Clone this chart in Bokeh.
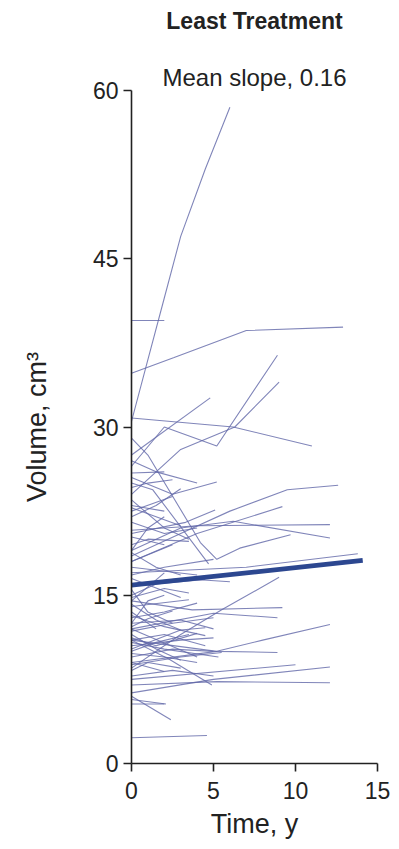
from bokeh.plotting import figure
from bokeh.models import Title, FixedTicker, Range1d
from bokeh.embed import file_html
from bokeh.resources import INLINE

FONT = "Liberation Sans"

# Individual trajectories: follow-up time (y) and volume (cm3)
subject_times = [
    [0, 1, 2, 3, 4.5, 6],
    [0, 2],
    [0, 2.6, 7, 12.9],
    [0, 6.2, 11],
    [0, 2, 5.2, 8.9],
    [0, 3, 6.3, 9],
    [0, 4.8],
    [0, 2.5, 5.2],
    [0, 2],
    [0, 1, 2.5],
    [0, 3, 6, 9.5, 12.6],
    [0, 4, 12.1],
    [0, 3, 6.2, 12.1],
    [0, 4, 9.2],
    [0, 3.3, 5.1],
    [0, 1, 4.2, 5.2, 6.6, 9.7],
    [0, 1.3, 4.7],
    [0, 7, 13.8],
    [0, 3, 5.5, 9],
    [0, 3.7, 9.2],
    [0, 5, 8.9],
    [0, 5.2, 8, 12.1],
    [0, 5.2, 8.9],
    [0, 10],
    [0, 5, 12.1],
    [0, 5.2, 12.1],
    [0, 2.1],
    [0, 2.4],
    [0, 4.6],
    [0, 2],
    [0, 2.3, 4.9],
    [0, 2],
    [0, 1.5, 3],
    [0, 2, 4],
    [0, 3],
    [0, 1, 3.5],
    [0, 2.5],
    [0, 4],
    [0, 2, 5],
    [0, 3, 6],
    [0, 1.5, 4.5],
    [0, 2],
    [0, 1, 2.5],
    [0, 1, 2],
    [0, 3.5],
    [0, 2, 4],
    [0, 3, 5],
    [0, 2.5, 5],
    [0, 1.5],
    [0, 2, 4.5],
    [0, 3, 5],
    [0, 1.5, 3.5],
    [0, 2, 4],
    [0, 2.5, 5],
    [0, 2],
    [0, 3, 5.5],
    [0, 1, 3],
    [0, 4],
    [0, 2, 5.3],
    [0, 1.5, 3],
    [0, 2],
    [0, 1.5, 4],
    [0, 2.5],
    [0, 1, 2],
    [0, 2, 3.5],
    [0, 3],
    [0, 1.5, 3],
    [0, 2.5, 5],
    [0, 1.5, 3],
    [0, 2, 4.5],
    [0, 1, 2.5],
    [0, 3, 4.5],
    [0, 2, 3.5],
    [0, 1.5, 4],
]
subject_volumes = [
    [30.5, 36, 41.5, 47, 53, 58.5],
    [39.5, 39.5],
    [34.8, 36.2, 38.6, 38.9],
    [30.8, 30.0, 28.3],
    [26.5, 30, 28.3, 36.4],
    [24, 28, 30, 34],
    [27.5, 32.6],
    [25.5, 24, 25.1],
    [25.9, 26],
    [24.6, 25, 25.3],
    [18.5, 20.5, 22.5, 24.4, 24.8],
    [20.8, 21.2, 21.3],
    [19, 21, 21.6, 20.1],
    [18, 20.5, 22.9],
    [20.5, 21.5, 22.6],
    [29, 27.5, 19.7, 18.2, 19.2, 20.4],
    [25, 24.4, 17.8],
    [17, 17.5, 18.7],
    [8.5, 11.5, 13.7, 16.6],
    [14.5, 13.7, 13.9],
    [12, 13.4, 13.0],
    [9, 10, 11, 12.4],
    [11, 10, 9.9],
    [7.5, 8.8],
    [6.3, 7.5, 8.6],
    [7, 7.3, 7.2],
    [5.7, 5.3],
    [6, 3.9],
    [2.3, 2.5],
    [5.3, 5.3],
    [11, 9.3, 7.0],
    [23, 22.5],
    [22, 23, 24.5],
    [21.5, 20.5, 21],
    [22.8, 21.2],
    [19.5, 20, 19.8],
    [18, 19.5],
    [17.5, 16.8],
    [16.8, 17.5, 18.2],
    [16, 16.5, 16.2],
    [15, 16, 16.4],
    [14.5, 17],
    [15.5, 13.5, 12.5],
    [12.5, 14.5, 15],
    [14, 14.6],
    [13, 13.5, 14.3],
    [12.5, 12.8, 12],
    [11.8, 12.5, 13],
    [13.5, 12],
    [11, 11.5, 10.5],
    [10.5, 11, 11.2],
    [10, 10.8, 11.5],
    [9.8, 9.5, 9],
    [9.5, 10.2, 10],
    [9, 8.2],
    [8.8, 9.5, 9.9],
    [8.3, 9, 8.5],
    [12, 9.5],
    [10.8, 10.2, 9.5],
    [18.8, 17.5, 16.8],
    [20.2, 19.5],
    [27, 26, 25],
    [22.5, 23.8],
    [19, 21, 22],
    [23.5, 21, 20],
    [16.5, 14.8],
    [11.5, 10.2, 9.2],
    [7.8, 8.3, 7.8],
    [14.2, 12.8, 11.9],
    [13.2, 12.2, 11.4],
    [12.2, 12.9, 13.6],
    [10.2, 11.9, 12.1],
    [14.8, 15.6, 15.2],
    [11.2, 10.5, 11.6],
]

# Mean trajectory (slope 0.16 cm3 per year)
mean_times = [0, 14.1]
mean_volumes = [15.9, 18.1]

x_ticks = [0, 5, 10, 15]
y_ticks = [0, 15, 30, 45, 60]

p = figure(width=391, height=841, output_backend="svg", toolbar_location=None,
           x_range=Range1d(0, 15), y_range=Range1d(0, 60),
           min_border_left=131, min_border_right=14, min_border_top=90,
           min_border_bottom=77)

p.title.text = "Least Treatment"
p.title.align = "center"
p.title.text_font = FONT
p.title.text_font_style = "bold"
p.title.text_font_size = "23px"
p.title.text_color = "#222222"
p.title.standoff = 0

sub = Title(text="Mean slope, 0.16", align="center", text_font=FONT,
            text_font_style="normal", text_font_size="24px", text_color="#222222",
            standoff=0)
p.add_layout(sub, "above")
spacer = Title(text=" ", text_font_size="1px", standoff=25)
p.add_layout(spacer, "above")

p.multi_line(subject_times, subject_volumes, line_color="#6066a8", line_alpha=0.8,
             line_width=1.1)
p.line(mean_times, mean_volumes, line_color="#2c4790", line_width=4.8)

p.grid.visible = False
p.outline_line_color = None
p.background_fill_color = "white"
p.border_fill_color = "white"

for ax in (p.xaxis[0], p.yaxis[0]):
    ax.axis_line_color = "#222222"
    ax.axis_line_width = 1.6
    ax.major_tick_line_color = "#222222"
    ax.major_tick_line_width = 1.6
    ax.major_tick_out = 8
    ax.major_tick_in = 0
    ax.minor_tick_line_color = None
    ax.major_label_text_font = FONT
    ax.major_label_text_font_size = "23px"
    ax.major_label_text_color = "#222222"
    ax.axis_label_text_font = FONT
    ax.axis_label_text_font_size = "27px"
    ax.axis_label_text_font_style = "normal"
    ax.axis_label_text_color = "#222222"

p.xaxis.ticker = FixedTicker(ticks=x_ticks)
p.yaxis.ticker = FixedTicker(ticks=y_ticks)
p.xaxis.axis_label = "Time, y"
p.yaxis.axis_label = "Volume, cm³"
p.yaxis.major_label_orientation = "horizontal"
p.xaxis.major_label_standoff = 10
p.yaxis.major_label_standoff = 5
p.xaxis.axis_label_standoff = 7
p.yaxis.axis_label_standoff = 38

open("out.html", "w").write(file_html(p, INLINE))
